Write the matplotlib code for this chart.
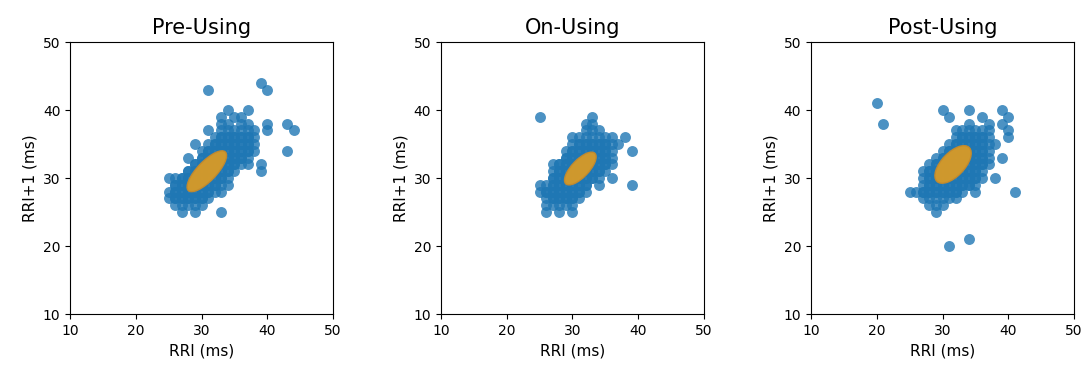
import matplotlib
matplotlib.use("Agg")
import matplotlib.pyplot as plt
from matplotlib.patches import Ellipse

plt.rcParams["font.family"] = "DejaVu Sans"

titles = ["Pre-Using", "On-Using", "Post-Using"]

# RRI(n) / RRI(n+1) pairs (ms)
pre_x = [39,
         31, 40,
         34, 37,
         33, 35, 36,
         33, 34, 36, 37, 40, 43,
         31, 33, 34, 35, 36, 37, 38, 40, 44,
         32, 33, 34, 35, 36, 37, 38,
         29, 31, 32, 33, 34, 35, 36, 37, 38,
         30, 31, 32, 33, 34, 35, 36, 37, 38, 43,
         28, 30, 31, 32, 33, 34, 35, 36, 37,
         29, 30, 31, 32, 33, 34, 35, 36, 37, 39,
         28, 29, 30, 31, 32, 33, 34, 35, 39,
         25, 26, 27, 28, 29, 30, 31, 32, 33, 34,
         26, 27, 28, 29, 30, 31, 32, 33, 34,
         25, 26, 27, 28, 29, 30, 31, 32, 33,
         25, 26, 27, 28, 29, 30, 31,
         26, 27, 28, 29, 30,
         27, 29, 33]
pre_y = [44,
         43, 43,
         40, 40,
         39, 39, 39,
         38, 38, 38, 38, 38, 38,
         37, 37, 37, 37, 37, 37, 37, 37, 37,
         36, 36, 36, 36, 36, 36, 36,
         35, 35, 35, 35, 35, 35, 35, 35, 35,
         34, 34, 34, 34, 34, 34, 34, 34, 34, 34,
         33, 33, 33, 33, 33, 33, 33, 33, 33,
         32, 32, 32, 32, 32, 32, 32, 32, 32, 32,
         31, 31, 31, 31, 31, 31, 31, 31, 31,
         30, 30, 30, 30, 30, 30, 30, 30, 30, 30,
         29, 29, 29, 29, 29, 29, 29, 29, 29,
         28, 28, 28, 28, 28, 28, 28, 28, 28,
         27, 27, 27, 27, 27, 27, 27,
         26, 26, 26, 26, 26,
         25, 25, 25]
# repeated beats in the dense core
pre_rep_x = [33, 34, 35, 36, 37,
             32, 33, 34, 35, 36, 37,
             31, 32, 33, 34, 35, 36, 37,
             30, 31, 32, 33, 34, 35, 36,
             29, 30, 31, 32, 33, 34, 35,
             28, 29, 30, 31, 32, 33, 34,
             27, 28, 29, 30, 31, 32, 33,
             26, 27, 28, 29, 30, 31, 32,
             26, 27, 28, 29, 30, 31,
             26, 27, 28, 29, 30]
pre_rep_y = [36, 36, 36, 36, 36,
             35, 35, 35, 35, 35, 35,
             34, 34, 34, 34, 34, 34, 34,
             33, 33, 33, 33, 33, 33, 33,
             32, 32, 32, 32, 32, 32, 32,
             31, 31, 31, 31, 31, 31, 31,
             30, 30, 30, 30, 30, 30, 30,
             29, 29, 29, 29, 29, 29, 29,
             28, 28, 28, 28, 28, 28,
             27, 27, 27, 27, 27]

on_x = [25, 33,
        32, 33,
        32, 33, 34,
        30, 31, 32, 33, 34, 35, 36, 38,
        30, 31, 32, 33, 34, 35, 36, 37,
        29, 30, 31, 32, 33, 34, 35, 36, 39,
        29, 30, 31, 32, 33, 34, 35, 36,
        27, 28, 29, 30, 31, 32, 33, 34, 35, 36,
        27, 28, 29, 30, 31, 32, 33, 34, 35,
        27, 28, 29, 30, 31, 32, 33, 34, 36,
        25, 26, 27, 28, 29, 30, 31, 32, 34, 39,
        25, 26, 27, 28, 29, 30, 31, 32,
        26, 27, 28, 29, 30, 31,
        26, 27, 28, 29, 30,
        26, 28, 30]
on_y = [39, 39,
        38, 38,
        37, 37, 37,
        36, 36, 36, 36, 36, 36, 36, 36,
        35, 35, 35, 35, 35, 35, 35, 35,
        34, 34, 34, 34, 34, 34, 34, 34, 34,
        33, 33, 33, 33, 33, 33, 33, 33,
        32, 32, 32, 32, 32, 32, 32, 32, 32, 32,
        31, 31, 31, 31, 31, 31, 31, 31, 31,
        30, 30, 30, 30, 30, 30, 30, 30, 30,
        29, 29, 29, 29, 29, 29, 29, 29, 29, 29,
        28, 28, 28, 28, 28, 28, 28, 28,
        27, 27, 27, 27, 27, 27,
        26, 26, 26, 26, 26,
        25, 25, 25]
on_rep_x = [31, 32, 33, 34, 35,
            30, 31, 32, 33, 34, 35,
            29, 30, 31, 32, 33, 34, 35,
            28, 29, 30, 31, 32, 33, 34, 35,
            28, 29, 30, 31, 32, 33, 34,
            27, 28, 29, 30, 31, 32, 33,
            27, 28, 29, 30, 31, 32,
            26, 27, 28, 29, 30, 31,
            27, 28, 29, 30]
on_rep_y = [35, 35, 35, 35, 35,
            34, 34, 34, 34, 34, 34,
            33, 33, 33, 33, 33, 33, 33,
            32, 32, 32, 32, 32, 32, 32, 32,
            31, 31, 31, 31, 31, 31, 31,
            30, 30, 30, 30, 30, 30, 30,
            29, 29, 29, 29, 29, 29,
            28, 28, 28, 28, 28, 28,
            27, 27, 27, 27]

post_x = [20,
          30, 34, 39,
          31, 36, 40,
          21, 34, 37, 39,
          32, 33, 34, 35, 36, 37, 40,
          32, 33, 34, 35, 36, 37, 40,
          31, 32, 33, 34, 35, 36, 37, 38,
          30, 31, 32, 33, 34, 35, 36, 37,
          29, 30, 31, 32, 33, 34, 35, 36, 37, 39,
          28, 29, 30, 31, 32, 33, 34, 35, 36, 37,
          27, 28, 29, 30, 31, 32, 33, 34, 35, 36,
          27, 28, 29, 30, 31, 32, 33, 34, 35, 36, 38,
          27, 28, 29, 30, 31, 32, 33, 34, 35,
          25, 26, 27, 28, 29, 30, 31, 32, 33, 35, 41,
          27, 28, 29, 30, 31, 32,
          28, 29, 30,
          29,
          34,
          31]
post_y = [41,
          40, 40, 40,
          39, 39, 39,
          38, 38, 38, 38,
          37, 37, 37, 37, 37, 37, 37,
          36, 36, 36, 36, 36, 36, 36,
          35, 35, 35, 35, 35, 35, 35, 35,
          34, 34, 34, 34, 34, 34, 34, 34,
          33, 33, 33, 33, 33, 33, 33, 33, 33, 33,
          32, 32, 32, 32, 32, 32, 32, 32, 32, 32,
          31, 31, 31, 31, 31, 31, 31, 31, 31, 31,
          30, 30, 30, 30, 30, 30, 30, 30, 30, 30, 30,
          29, 29, 29, 29, 29, 29, 29, 29, 29,
          28, 28, 28, 28, 28, 28, 28, 28, 28, 28, 28,
          27, 27, 27, 27, 27, 27,
          26, 26, 26,
          25,
          21,
          20]
post_rep_x = [33, 34, 35, 36,
              32, 33, 34, 35, 36,
              31, 32, 33, 34, 35, 36,
              30, 31, 32, 33, 34, 35, 36,
              29, 30, 31, 32, 33, 34, 35, 36,
              28, 29, 30, 31, 32, 33, 34, 35,
              28, 29, 30, 31, 32, 33, 34, 35,
              28, 29, 30, 31, 32, 33, 34,
              27, 28, 29, 30, 31, 32]
post_rep_y = [36, 36, 36, 36,
              35, 35, 35, 35, 35,
              34, 34, 34, 34, 34, 34,
              33, 33, 33, 33, 33, 33, 33,
              32, 32, 32, 32, 32, 32, 32, 32,
              31, 31, 31, 31, 31, 31, 31, 31,
              30, 30, 30, 30, 30, 30, 30, 30,
              29, 29, 29, 29, 29, 29, 29,
              28, 28, 28, 28, 28, 28]

# SD1/SD2 ellipse per phase: centre x, centre y, width (2*SD2), height (2*SD1)
ell_cx = [30.8, 31.2, 31.6]
ell_cy = [31.0, 31.4, 32.0]
ell_w = [8.0, 6.3, 7.0]
ell_h = [2.9, 2.6, 3.5]

xs = [pre_x + pre_rep_x, on_x + on_rep_x, post_x + post_rep_x]
ys = [pre_y + pre_rep_y, on_y + on_rep_y, post_y + post_rep_y]

fig = plt.figure(figsize=(10.86, 3.69), dpi=100)
lefts = [0.0645, 0.406, 0.7468]

for i in range(3):
    ax = fig.add_axes([lefts[i], 0.149, 0.2422, 0.737])
    ax.scatter(xs[i], ys[i], s=62, color="#1f77b4", alpha=0.8, linewidths=0)
    ax.add_patch(Ellipse((ell_cx[i], ell_cy[i]), ell_w[i], ell_h[i], angle=45,
                         facecolor="#d99a26", edgecolor="#c48a2c", linewidth=1, alpha=0.95, zorder=3))
    ax.set_xlim(10, 50)
    ax.set_ylim(10, 50)
    ax.set_xticks([10, 20, 30, 40, 50])
    ax.set_yticks([10, 20, 30, 40, 50])
    ax.set_title(titles[i], fontsize=15)
    ax.set_xlabel("RRI (ms)", fontsize=11)
    ax.set_ylabel("RRI+1 (ms)", fontsize=11)

plt.savefig("out.png", dpi=100)
